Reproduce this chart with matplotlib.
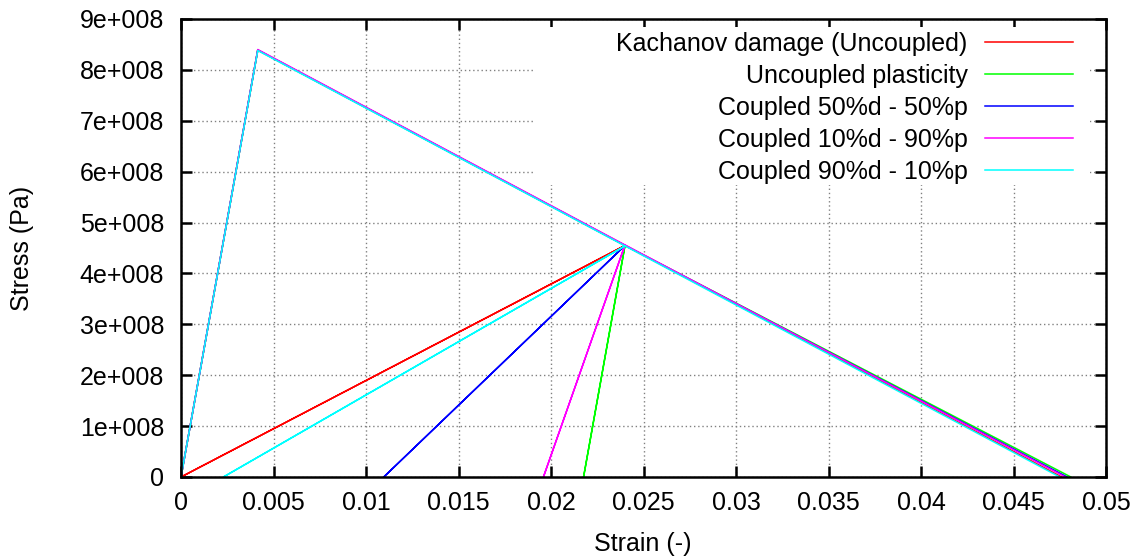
import math
import matplotlib
matplotlib.use("Agg")
import matplotlib.pyplot as plt
from matplotlib.ticker import FuncFormatter, MultipleLocator
from matplotlib.patches import Rectangle

plt.rcParams['font.family'] = ['Liberation Sans', 'DejaVu Sans']

# Data (strain, stress in Pa)
labels = ["Kachanov damage (Uncoupled)", "Uncoupled plasticity",
          "Coupled 50%d - 50%p", "Coupled 10%d - 90%p", "Coupled 90%d - 10%p"]
colors = ["#ff0000", "#00ff00", "#0000ff", "#ff00ff", "#00ffff"]

strain_kachanov = [0.0, 0.00415, 0.0240, 0.0, 0.0240, 0.0476]
stress_kachanov = [0.0, 8.39e8, 4.55e8, 0.0, 4.55e8, 0.0]

strain_plastic = [0.0, 0.00415, 0.0240, 0.02176, 0.0240, 0.0481]
stress_plastic = [0.0, 8.39e8, 4.55e8, 0.0, 4.55e8, 0.0]

strain_c50 = [0.0, 0.00415, 0.0240, 0.01096, 0.0240, 0.0479]
stress_c50 = [0.0, 8.39e8, 4.55e8, 0.0, 4.55e8, 0.0]

strain_c10 = [0.0, 0.00415, 0.0240, 0.01959, 0.0240, 0.0478]
stress_c10 = [0.0, 8.40e8, 4.56e8, 0.0, 4.56e8, 0.0]

strain_c90 = [0.0, 0.00415, 0.0240, 0.00229, 0.0240, 0.0475]
stress_c90 = [0.0, 8.38e8, 4.54e8, 0.0, 4.54e8, 0.0]

series = [(strain_kachanov, stress_kachanov), (strain_plastic, stress_plastic),
          (strain_c50, stress_c50), (strain_c10, stress_c10), (strain_c90, stress_c90)]

FS = 18

fig = plt.figure(figsize=(11.42, 5.59), dpi=100)
ax = fig.add_axes([181/1142, 1 - 477/559, (1106 - 181)/1142, (477 - 19)/559])

for (x, y), lab, c in zip(series, labels, colors):
    ax.plot(x, y, color=c, lw=1.1, label=lab, zorder=3)

ax.set_xlim(0, 0.05)
ax.set_ylim(0, 9e8)
ax.xaxis.set_major_locator(MultipleLocator(0.005))
ax.yaxis.set_major_locator(MultipleLocator(1e8))

def xfmt(v, pos):
    if abs(v) < 1e-12:
        return "0"
    return ("%.3f" % v).rstrip('0')

def yfmt(v, pos):
    if abs(v) < 1:
        return "0"
    e = int(math.floor(math.log10(abs(v)) + 1e-9))
    m = v / 10**e
    return "%ge+%03d" % (round(m, 3), e)

ax.xaxis.set_major_formatter(FuncFormatter(xfmt))
ax.yaxis.set_major_formatter(FuncFormatter(yfmt))

ax.grid(True, color='#808080', linestyle=(0, (1, 2)), linewidth=1.0)
ax.set_axisbelow(True)

# white area behind the key (hides the grid there, as in the original)
ax.add_patch(Rectangle((0.3816, 0.6376), 0.9827 - 0.3816, 0.9825 - 0.6376,
                       transform=ax.transAxes, facecolor='white',
                       edgecolor='none', zorder=1))

for s in ax.spines.values():
    s.set_linewidth(1.8)
    s.set_zorder(4)
ax.tick_params(direction='in', length=8, width=1.8, top=True, right=True,
               labelsize=FS, colors='black')
ax.tick_params(axis='x', pad=10)
ax.tick_params(axis='y', pad=12)

ax.set_xlabel("Strain (-)", fontsize=FS)
ax.set_ylabel("Stress (Pa)", fontsize=FS)
ax.xaxis.set_label_coords(0.4995, -0.12)
ax.yaxis.set_label_coords(-0.159, 0.5)

leg = ax.legend(loc='upper right', bbox_to_anchor=(0.9643, 0.9715), markerfirst=False,
                frameon=False, fontsize=FS, handlelength=3.5, handletextpad=0.72,
                labelspacing=0.32, borderpad=0.0, borderaxespad=0.0)

fig.savefig("out.png", dpi=100)
